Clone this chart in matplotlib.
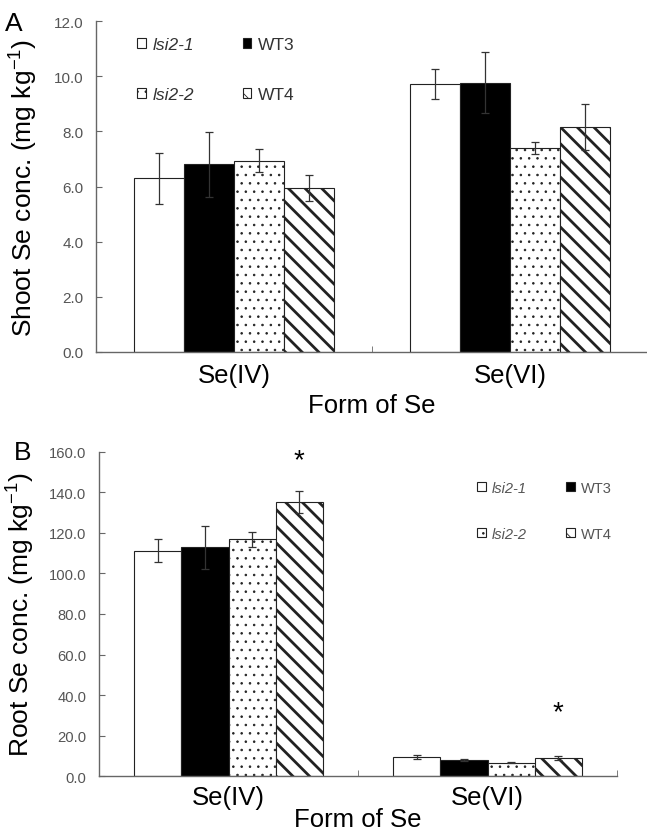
import numpy as np
import matplotlib
matplotlib.use("Agg")
from matplotlib import pyplot as plt

plt.rcParams["font.family"] = ["Liberation Sans", "DejaVu Sans"]
plt.rcParams["mathtext.fontset"] = "custom"
plt.rcParams["mathtext.rm"] = "Liberation Sans"
plt.rcParams["mathtext.default"] = "rm"
plt.rcParams["hatch.linewidth"] = 0.6

forms = ["Se(IV)", "Se(VI)"]
lines = ["lsi2-1", "WT3", "lsi2-2", "WT4"]

shoot_mean = {
    "lsi2-1": [6.30, 9.72],
    "WT3": [6.80, 9.76],
    "lsi2-2": [6.94, 7.40],
    "WT4": [5.94, 8.16],
}
shoot_err = {
    "lsi2-1": [0.92, 0.53],
    "WT3": [1.17, 1.10],
    "lsi2-2": [0.43, 0.22],
    "WT4": [0.47, 0.84],
}
root_mean = {
    "lsi2-1": [111.2, 9.7],
    "WT3": [112.9, 8.2],
    "lsi2-2": [116.8, 6.7],
    "WT4": [135.2, 9.2],
}
root_err = {
    "lsi2-1": [5.6, 1.0],
    "WT3": [10.5, 0.5],
    "lsi2-2": [3.6, 0.3],
    "WT4": [5.4, 1.0],
}
# significance marks (form index, line)
root_sig = [(0, "WT4"), (1, "WT4")]

styles = {
    "lsi2-1": dict(color="white", hatch=None),
    "WT3": dict(color="black", hatch=None),
    "lsi2-2": dict(color="white", hatch=".."),
    "WT4": dict(color="white", hatch="\\\\"),
}

spine_col = "#666666"
tick_col = "#555555"
W, H = 647, 837
width = 0.182


def draw_panel(ax, means, errs, ylim, ystep, fs_tick, xticks_minor,
               xpad, xlpad):
    x = np.arange(len(forms))
    bars = {}
    for i, ln in enumerate(lines):
        pos = x + (i - 1.5) * width
        b = ax.bar(pos, means[ln], width, color=styles[ln]["color"],
                   hatch=styles[ln]["hatch"], edgecolor="#222222",
                   linewidth=0.8, label=ln, zorder=2)
        if ln == "WT4":
            for p in b:
                try:
                    p.set_hatch_linewidth(2.0)
                except AttributeError:
                    pass
        ax.errorbar(pos, means[ln], yerr=errs[ln], fmt="none",
                    ecolor="#333333", elinewidth=0.9, capsize=3,
                    capthick=0.9, zorder=3)
        bars[ln] = b
    ax.set_xlim(-0.5, 1.5)
    ax.set_ylim(*ylim)
    ax.set_yticks(np.arange(ylim[0], ylim[1] + ystep / 2, ystep))
    ax.yaxis.set_major_formatter(matplotlib.ticker.FormatStrFormatter("%.1f"))
    ax.set_xticks(x)
    ax.set_xticklabels(forms, fontsize=18.5)
    ax.set_xticks(xticks_minor, minor=True)
    ax.tick_params(axis="x", which="major", length=0, pad=xpad)
    ax.tick_params(axis="x", which="minor", direction="in", length=4,
                   color=spine_col)
    ax.tick_params(axis="y", direction="in", length=4, color=spine_col,
                   labelsize=fs_tick, labelcolor=tick_col, pad=9)
    for s in ["top", "right"]:
        ax.spines[s].set_visible(False)
    for s in ["left", "bottom"]:
        ax.spines[s].set_color(spine_col)
        ax.spines[s].set_linewidth(1.0)
    ax.set_xlabel("Form of Se", fontsize=18.5, labelpad=xlpad)
    return bars


fig = plt.figure(figsize=(W / 100, H / 100), dpi=100)

# panel A
axA = fig.add_axes([96 / W, 1 - 353 / H, 552 / W, 331 / H])
barsA = draw_panel(axA, shoot_mean, shoot_err, (0, 12), 2.0, 11, [0.5], 8, 4)
axA.set_ylabel("Shoot Se conc. (mg kg$^{-1}$)", fontsize=19)
axA.yaxis.set_label_coords((40 - 96) / 552, 0.5)
fig.text(14 / W, 1 - 24 / H, "A", fontsize=19, ha="center", va="center")
handles = [barsA["lsi2-1"], barsA["lsi2-2"], barsA["WT3"], barsA["WT4"]]
legA = axA.legend(handles, ["lsi2-1", "lsi2-2", "WT3", "WT4"], ncol=2,
                  loc="upper left", bbox_to_anchor=(137 / W, 1 - 38 / H),
                  bbox_transform=fig.transFigure, frameon=False,
                  fontsize=12.5, handlelength=0.5, handleheight=0.5,
                  handletextpad=0.4, labelspacing=2.0, columnspacing=2.8,
                  borderpad=0, borderaxespad=0)
for t in legA.get_texts()[:2]:
    t.set_fontstyle("italic")
for t in legA.get_texts():
    t.set_color("#333333")

# panel B
axB = fig.add_axes([99 / W, 1 - 777.3 / H, 518 / W, 324.6 / H])
barsB = draw_panel(axB, root_mean, root_err, (0, 160), 20.0, 10.6,
                   [0.5, 1.5], 6, -1)
axB.set_ylabel("Root Se conc. (mg kg$^{-1}$)", fontsize=19)
axB.yaxis.set_label_coords((37 - 99) / 518, 0.5)
fig.text(23 / W, 1 - 453 / H, "B", fontsize=19, ha="center", va="center")
for fi, ln in root_sig:
    i = lines.index(ln)
    xs = fi + (i - 1.5) * width
    top = root_mean[ln][fi] + root_err[ln][fi]
    axB.annotate("*", (xs, top), xytext=(0, 13 if fi == 0 else 22),
                 textcoords="offset points", ha="center", va="bottom",
                 fontsize=20, annotation_clip=False)
handles = [barsB["lsi2-1"], barsB["lsi2-2"], barsB["WT3"], barsB["WT4"]]
legB = axB.legend(handles, ["lsi2-1", "lsi2-2", "WT3", "WT4"], ncol=2,
                  loc="upper left", bbox_to_anchor=(477 / W, 1 - 481.6 / H),
                  bbox_transform=fig.transFigure, frameon=False,
                  fontsize=10.5, handlelength=0.6, handleheight=0.6,
                  handletextpad=0.4, labelspacing=2.2, columnspacing=2.7,
                  borderpad=0, borderaxespad=0)
for t in legB.get_texts()[:2]:
    t.set_fontstyle("italic")
for t in legB.get_texts():
    t.set_color("#555555")

fig.savefig("out.png", dpi=100)
